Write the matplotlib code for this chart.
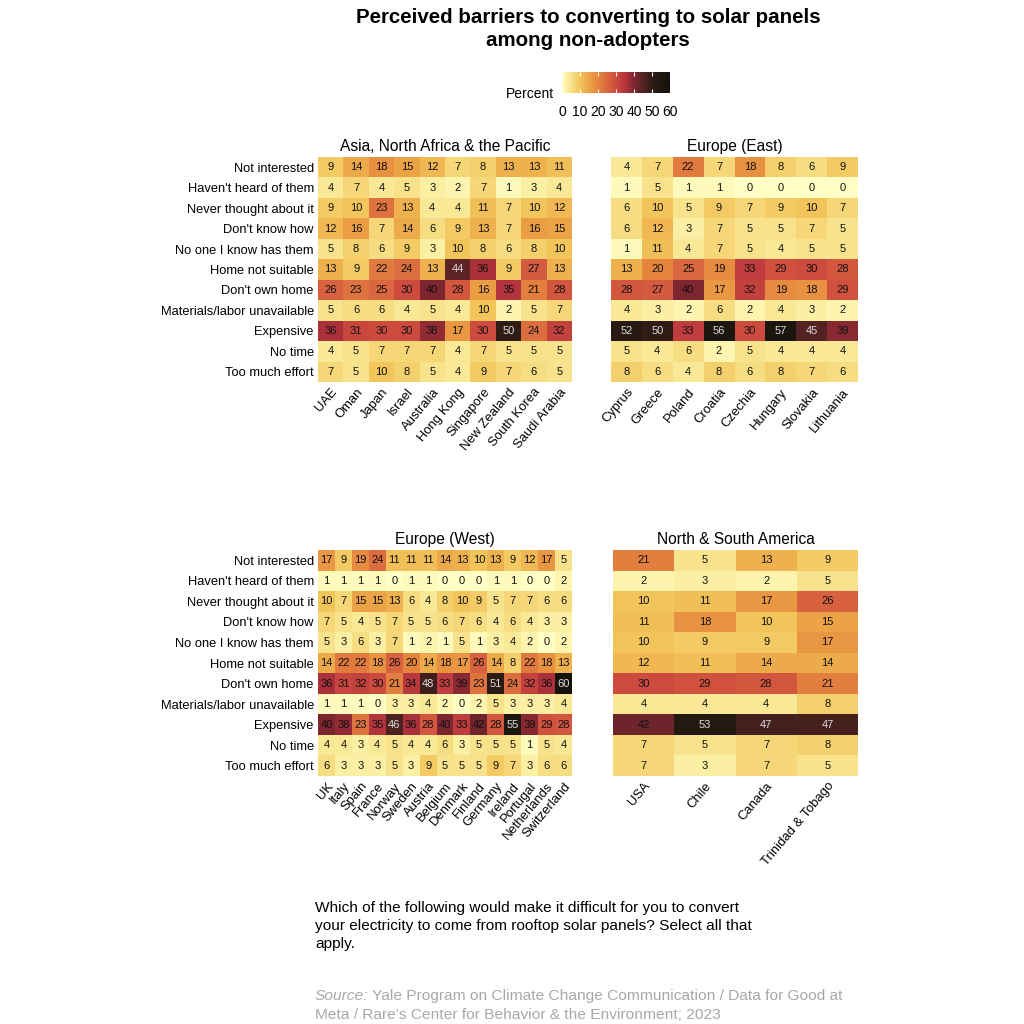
import numpy as np
import matplotlib
matplotlib.use("Agg")
import matplotlib.pyplot as plt
from matplotlib.colors import LinearSegmentedColormap, Normalize
import matplotlib.colorbar as mcolorbar

plt.rcParams['font.family'] = ['Liberation Sans', 'DejaVu Sans']

barriers = ["Not interested", "Haven't heard of them", "Never thought about it",
            "Don't know how", "No one I know has them", "Home not suitable",
            "Don't own home", "Materials/labor unavailable", "Expensive",
            "No time", "Too much effort"]

asia_countries = ["UAE", "Oman", "Japan", "Israel", "Australia", "Hong Kong",
                  "Singapore", "New Zealand", "South Korea", "Saudi Arabia"]
asia_values = [
    [9, 14, 18, 15, 12, 7, 8, 13, 13, 11],
    [4, 7, 4, 5, 3, 2, 7, 1, 3, 4],
    [9, 10, 23, 13, 4, 4, 11, 7, 10, 12],
    [12, 16, 7, 14, 6, 9, 13, 7, 16, 15],
    [5, 8, 6, 9, 3, 10, 8, 6, 8, 10],
    [13, 9, 22, 24, 13, 44, 36, 9, 27, 13],
    [26, 23, 25, 30, 40, 28, 16, 35, 21, 28],
    [5, 6, 6, 4, 5, 4, 10, 2, 5, 7],
    [36, 31, 30, 30, 38, 17, 30, 50, 24, 32],
    [4, 5, 7, 7, 7, 4, 7, 5, 5, 5],
    [7, 5, 10, 8, 5, 4, 9, 7, 6, 5],
]

east_countries = ["Cyprus", "Greece", "Poland", "Croatia", "Czechia", "Hungary",
                  "Slovakia", "Lithuania"]
east_values = [
    [4, 7, 22, 7, 18, 8, 6, 9],
    [1, 5, 1, 1, 0, 0, 0, 0],
    [6, 10, 5, 9, 7, 9, 10, 7],
    [6, 12, 3, 7, 5, 5, 7, 5],
    [1, 11, 4, 7, 5, 4, 5, 5],
    [13, 20, 25, 19, 33, 29, 30, 28],
    [28, 27, 40, 17, 32, 19, 18, 29],
    [4, 3, 2, 6, 2, 4, 3, 2],
    [52, 50, 33, 56, 30, 57, 45, 39],
    [5, 4, 6, 2, 5, 4, 4, 4],
    [8, 6, 4, 8, 6, 8, 7, 6],
]

west_countries = ["UK", "Italy", "Spain", "France", "Norway", "Sweden", "Austria",
                  "Belgium", "Denmark", "Finland", "Germany", "Ireland", "Portugal",
                  "Netherlands", "Switzerland"]
west_values = [
    [17, 9, 19, 24, 11, 11, 11, 14, 13, 10, 13, 9, 12, 17, 5],
    [1, 1, 1, 1, 0, 1, 1, 0, 0, 0, 1, 1, 0, 0, 2],
    [10, 7, 15, 15, 13, 6, 4, 8, 10, 9, 5, 7, 7, 6, 6],
    [7, 5, 4, 5, 7, 5, 5, 6, 7, 6, 4, 6, 4, 3, 3],
    [5, 3, 6, 3, 7, 1, 2, 1, 5, 1, 3, 4, 2, 0, 2],
    [14, 22, 22, 18, 26, 20, 14, 18, 17, 26, 14, 8, 22, 18, 13],
    [36, 31, 32, 30, 21, 34, 48, 33, 39, 23, 51, 24, 32, 36, 60],
    [1, 1, 1, 0, 3, 3, 4, 2, 0, 2, 5, 3, 3, 3, 4],
    [40, 38, 23, 35, 46, 36, 28, 40, 33, 42, 28, 55, 39, 29, 28],
    [4, 4, 3, 4, 5, 4, 4, 6, 3, 5, 5, 5, 1, 5, 4],
    [6, 3, 3, 3, 5, 3, 9, 5, 5, 5, 9, 7, 3, 6, 6],
]

america_countries = ["USA", "Chile", "Canada", "Trinidad & Tobago"]
america_values = [
    [21, 5, 13, 9],
    [2, 3, 2, 5],
    [10, 11, 17, 26],
    [11, 18, 10, 15],
    [10, 9, 9, 17],
    [12, 11, 14, 14],
    [30, 29, 28, 21],
    [4, 4, 4, 8],
    [42, 53, 47, 47],
    [7, 5, 7, 8],
    [7, 3, 7, 5],
]

panel_titles = ["Asia, North Africa & the Pacific", "Europe (East)",
                "Europe (West)", "North & South America"]

cmap_stops = [
    (0.0, "#FFFFC6"), (5/60, "#F8E28A"), (10/60, "#F2C45A"), (15/60, "#ECA346"),
    (20/60, "#E5853D"), (25/60, "#DA6740"), (30/60, "#CE4B3F"), (35/60, "#B5343D"),
    (40/60, "#7E2630"), (45/60, "#552222"), (50/60, "#2F1C15"), (55/60, "#1E170F"),
    (1.0, "#15120B"),
]
cmap = LinearSegmentedColormap.from_list("heat", cmap_stops)
norm = Normalize(0, 60)

W = H = 1024
fig = plt.figure(figsize=(10.24, 10.24), dpi=100)


def px_axes(x0, y0, x1, y1):
    return fig.add_axes([x0 / W, 1 - y1 / H, (x1 - x0) / W, (y1 - y0) / H])


def draw_panel(rect, countries, values, title, show_y):
    ax = px_axes(*rect)
    data = np.array(values, dtype=float)
    nr, nc = data.shape
    ax.pcolormesh(np.arange(nc + 1), np.arange(nr + 1), data, cmap=cmap, norm=norm,
                  edgecolor='none', linewidth=0)
    ax.set_xlim(0, nc)
    ax.set_ylim(nr, 0)
    for i in range(nr):
        for j in range(nc):
            v = data[i, j]
            col = "#DDDDDD" if v >= 43 else "#111111"
            ax.text(j + 0.5, i + 0.5, f"{int(v)}", ha='center', va='center',
                    fontsize=8, color=col)
    ax.set_xticks(np.arange(nc) + 0.5)
    ax.set_xticklabels(countries, rotation=50, ha='right', va='top',
                       rotation_mode='anchor', fontsize=9.4)
    ax.set_yticks(np.arange(nr) + 0.5)
    if show_y:
        ax.set_yticklabels(barriers, fontsize=9.3)
    else:
        ax.set_yticklabels([])
    ax.tick_params(length=0, pad=3)
    for s in ax.spines.values():
        s.set_visible(False)
    ax.set_title(title, fontsize=11.2, pad=4)
    return ax


draw_panel((318, 157, 572, 382), asia_countries, asia_values, panel_titles[0], True)
draw_panel((611, 157, 858, 382), east_countries, east_values, panel_titles[1], False)
draw_panel((318, 550, 572, 776), west_countries, west_values, panel_titles[2], True)
draw_panel((613, 550, 858, 776), america_countries, america_values, panel_titles[3], False)

# title
fig.text(588 / W, 1 - 8 / H, "Perceived barriers to converting to solar panels\namong non-adopters",
         ha='center', va='top', fontsize=14.8, fontweight='bold', linespacing=1.25)

# colorbar
cax = px_axes(562, 72, 670, 93)
cb = mcolorbar.ColorbarBase(cax, cmap=cmap, norm=norm, orientation='horizontal',
                            ticks=[0, 10, 20, 30, 40, 50, 60])
cb.outline.set_visible(False)
cax.tick_params(axis='x', direction='in', length=3, color='white', width=0.8,
                labelsize=10, pad=9, top=True, bottom=True)
fig.text(554 / W, 1 - 94 / H, "Percent", ha='right', va='center', fontsize=10)

# caption
fig.text(315 / W, 1 - 901 / H,
         "Which of the following would make it difficult for you to convert\n"
         "your electricity to come from rooftop solar panels? Select all that\n"
         "apply.", ha='left', va='top', fontsize=11.1, linespacing=1.38)

src_y = 1 - 989 / H
t = fig.text(315 / W, src_y, "Source:", ha='left', va='top', fontsize=11.15,
             style='italic', color='#A8A8A8')
fig.canvas.draw()
bb = t.get_window_extent()
x_after = bb.x1 / (W)
fig.text(x_after, src_y,
         " Yale Program on Climate Change Communication / Data for Good at",
         ha='left', va='top', fontsize=11.15, color='#A8A8A8')
fig.text(315 / W, src_y - 19 / H,
         "Meta / Rare\u2019s Center for Behavior & the Environment; 2023",
         ha='left', va='top', fontsize=11.15, color='#A8A8A8')

fig.savefig("out.png", dpi=100, facecolor='white')
